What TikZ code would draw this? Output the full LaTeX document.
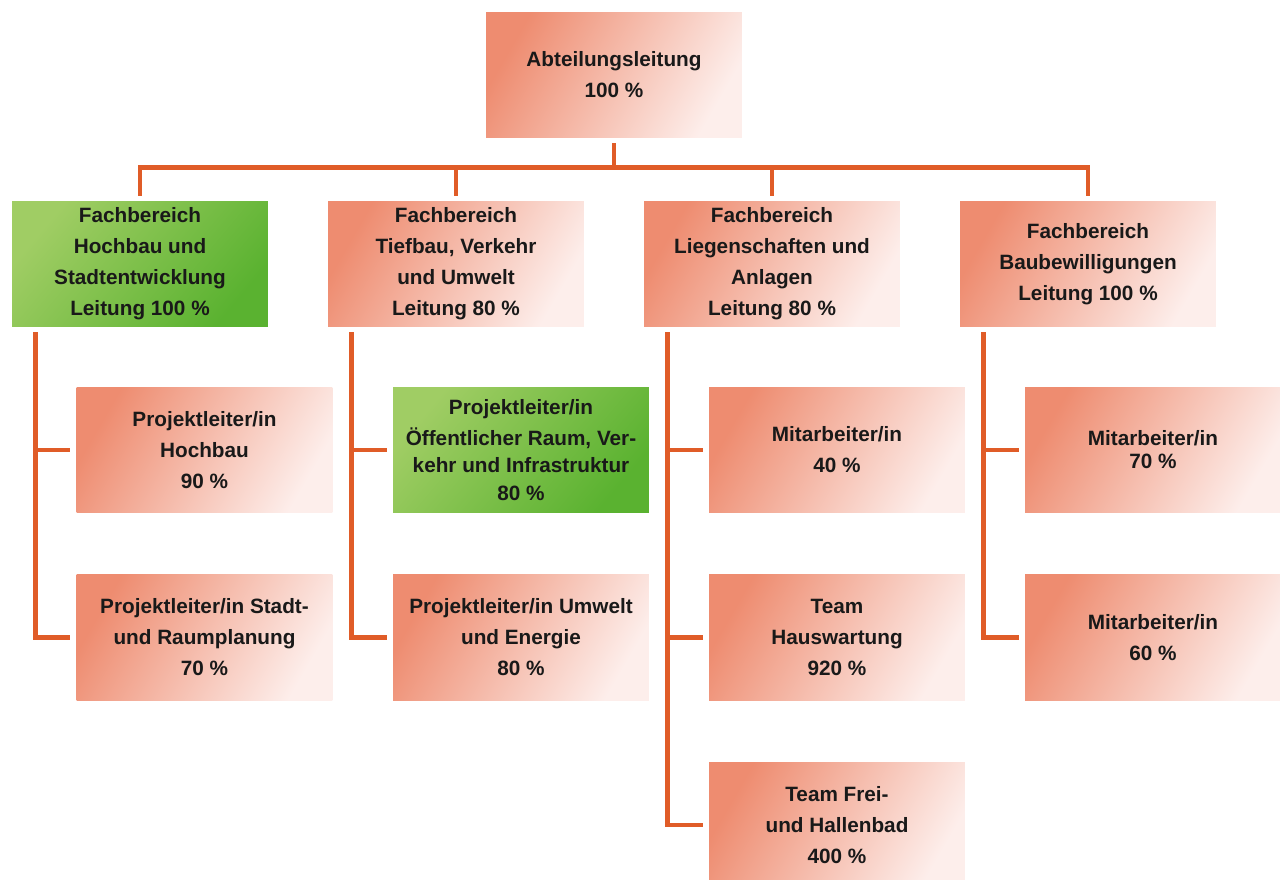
\documentclass[tikz,border=0pt]{standalone}
\usepackage{fontspec}
\setmainfont{Liberation Sans}
\definecolor{busline}{RGB}{224,92,40}
\definecolor{salmonA}{RGB}{238,140,112}
\definecolor{salmonM}{RGB}{246,188,174}
\definecolor{salmonB}{RGB}{253,238,235}
\definecolor{greenA}{RGB}{160,205,100}
\definecolor{greenM}{RGB}{214,231,170}
\definecolor{greenB}{RGB}{90,178,48}
\begin{document}
\begin{tikzpicture}[x=0.02cm,y=-0.02cm,
    box/.style={minimum width=5.12cm, minimum height=2.52cm, inner sep=0pt, align=center,
        top color=salmonA, middle color=salmonM, bottom color=salmonB, shading angle=60,
        font=\fontsize{11.8}{17.6}\selectfont\bfseries, text=black!90},
    greenbox/.style={box, top color=greenA, middle color=greenM, bottom color=greenB, shading angle=50},
    bus/.style={draw=busline, line width=2.8pt}]
    \useasboundingbox (0,0) rectangle (1280,879);
    \clip (0,0) rectangle (1280,879);

    \node[box] (top) at (614,75) {Abteilungsleitung\\100 \%};

    \node[greenbox] (fa) at (140,264) {Fachbereich\\Hochbau und\\Stadtentwicklung\\Leitung 100 \%};
    \node[box] (fb) at (456,264) {Fachbereich\\Tiefbau, Verkehr\\und Umwelt\\Leitung 80 \%};
    \node[box] (fc) at (772,264) {Fachbereich\\Liegenschaften und\\Anlagen\\Leitung 80 \%};
    \node[box] (fd) at (1088,264) {Fachbereich\\Baubewilligungen\\Leitung 100 \%};

    \node[box] (pa1) at (204.5,450) {Projektleiter/in\\Hochbau\\90 \%};
    \node[box] (pa2) at (204.5,637.5) {Projektleiter/in Stadt-\\und Raumplanung\\70 \%};

    \node[greenbox] (pb1) at (521,450) {Projektleiter/in\\Öffentlicher Raum, Ver-\\[-2pt]kehr und Infrastruktur\\[-2pt]80 \%};
    \node[box] (pb2) at (521,637.5) {Projektleiter/in Umwelt\\und Energie\\80 \%};

    \node[box] (pc1) at (837,450) {Mitarbeiter/in\\40 \%};
    \node[box] (pc2) at (837,637.5) {Team\\Hauswartung\\920 \%};
    \node[box] (pc3) at (837,825) {Team Frei-\\und Hallenbad\\400 \%};

    \node[box] (pd1) at (1153,450) {Mitarbeiter/in\\[-4.5pt]70 \%};
    \node[box] (pd2) at (1153,637.5) {Mitarbeiter/in\\60 \%};

    % Leitung zu den Fachbereichen
    \draw[bus] ([shift={(0,5)}]top.south) -- ++(0,24);
    \foreach \f in {fa,fb,fc,fd}
        \draw[bus] ([shift={(0,29)}]top.south) -| ([shift={(0,-5)}]\f.north);

    % Fachbereiche zu den Stellen
    \foreach \f/\s in {fa/pa1,fa/pa2,fb/pb1,fb/pb2,fc/pc1,fc/pc2,fc/pc3,fd/pd1,fd/pd2}
        \draw[bus] ([shift={(23.5,5)}]\f.south west) |- ([shift={(-6,0)}]\s.west);
\end{tikzpicture}
\end{document}
